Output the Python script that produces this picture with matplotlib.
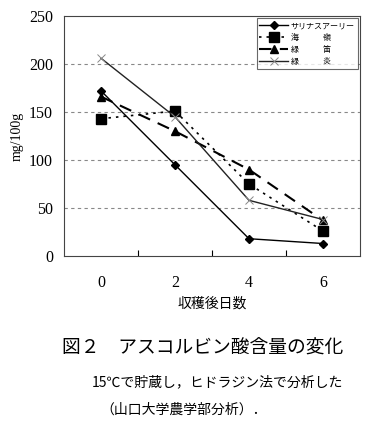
import numpy as np
import matplotlib.pyplot as plt

plt.rcParams['font.family'] = ['Noto Sans CJK JP', 'DejaVu Sans']

days = ['0', '2', '4', '6']
salinas = [172, 95, 18, 13]
kairei = [143, 151, 75, 26]
ryokuteki = [166, 130, 90, 37]
ryokuen = [206, 145, 58, 38]
labels = ['サリナスアーリー', '海　　　嶺', '緑　　　笛', '緑　　　炎']

fig = plt.figure(figsize=(3.81, 4.29), dpi=100)
ax = fig.add_axes([64/381, 1-256/429, 296/381, 240/429])

x = np.arange(len(days))
ax.plot(x, salinas, color='black', lw=1, marker='D', ms=4, label=labels[0])
ax.plot(x, kairei, color='black', lw=1.2, ls=(0, (1.5, 3)), marker='s', ms=6.5, label=labels[1])
ax.plot(x, ryokuteki, color='black', lw=1.5, ls=(0, (6, 4)), marker='^', ms=6, label=labels[2])
ax.plot(x, ryokuen, color='#222222', lw=1, marker='x', ms=6, mew=0.7, mec='#888888', label=labels[3])

ax.set_xlim(-0.5, 3.5)
ax.set_ylim(0, 250)
ax.set_yticks([0, 50, 100, 150, 200, 250])
ax.set_xticks(x)
ax.set_xticklabels(days)
ax.set_xticks([0.5, 1.5, 2.5], minor=True)
ax.tick_params(axis='x', which='major', length=0, pad=14)
ax.tick_params(axis='x', which='minor', direction='in', length=4, width=0.8)
ax.tick_params(axis='y', length=0, pad=8)
for lab in ax.get_xticklabels() + ax.get_yticklabels():
    lab.set_family('Liberation Serif')
    lab.set_fontsize(11.5)
for yv in [50, 100, 150, 200]:
    ax.axhline(yv, color='#888888', lw=0.8, ls=(0, (3, 3)), zorder=0)
for s in ax.spines.values():
    s.set_linewidth(0.8)
    s.set_color('#444444')

ax.set_ylabel('mg/100g', family='Liberation Serif', fontsize=10, labelpad=4)
ax.set_xlabel('収穫後日数', fontsize=10, labelpad=4)

leg = ax.legend(loc='upper right', fontsize=5.8, handlelength=3.6, frameon=True,
                fancybox=False, edgecolor='#444444', borderpad=0.35,
                labelspacing=0.35, handletextpad=0.3, borderaxespad=0.3)
leg.get_frame().set_linewidth(0.8)

fig.text(62/381, 1-348/429, '図２　アスコルビン酸含量の変化', fontsize=13.5, va='center')
fig.text(92/381, 1-382/429, '15℃で貯蔵し，ヒドラジン法で分析した', fontsize=10, va='center')
fig.text(100/381, 1-410/429, '（山口大学農学部分析）．', fontsize=10, va='center')

plt.savefig('out.png', dpi=100)
